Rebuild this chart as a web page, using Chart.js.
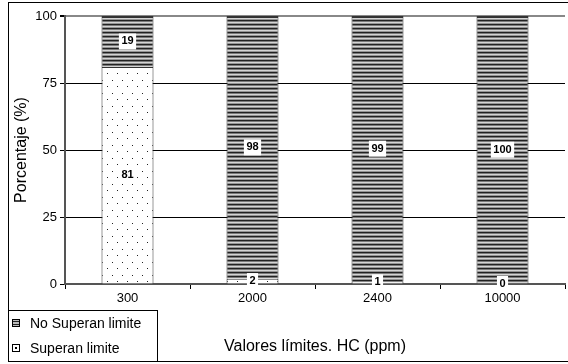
<!DOCTYPE html>
<html>
<head>
<meta charset="utf-8">
<script src="https://cdn.jsdelivr.net/npm/chart.js@4/dist/chart.umd.min.js"></script>
<style>
  html, body { margin: 0; padding: 0; background: #fff; }
  #wrap { width: 568px; height: 364px; position: relative; }
</style>
</head>
<body>
<div id="wrap"><canvas id="grafico"></canvas></div>
<script>
// Datos
var categorias = ['300', '2000', '2400', '10000'];
var superan = [81, 2, 1, 0];
var noSuperan = [19, 98, 99, 100];
var nombresSeries = ['Superan limite', 'No Superan limite'];
var ejeY = { min: 0, max: 100, paso: 25 };
var tituloX = 'Valores límites. HC (ppm)';
var tituloY = 'Porcentaje (%)';

// patrones de relleno
function patronRayas(ctx) {
    var c = document.createElement('canvas');
    c.width = 4; c.height = 4;
    var p = c.getContext('2d');
    p.fillStyle = '#d4d4d4'; p.fillRect(0, 0, 4, 4);
    p.fillStyle = '#222222'; p.fillRect(0, 0, 4, 1);
    p.fillStyle = '#7a7a7a'; p.fillRect(0, 1, 4, 1);
    p.fillStyle = '#959595'; p.fillRect(0, 3, 4, 1);
    return ctx.createPattern(c, 'repeat');
}

function patronPuntos(ctx) {
    var c = document.createElement('canvas');
    c.width = 10; c.height = 13;
    var p = c.getContext('2d');
    p.fillStyle = '#ffffff'; p.fillRect(0, 0, 10, 13);
    p.fillStyle = '#222222';
    p.fillRect(2, 2, 1, 1);
    p.fillRect(7, 8, 1, 1);
    return ctx.createPattern(c, 'repeat');
}

var canvas = document.getElementById('grafico');
var ctx = canvas.getContext('2d');
var rayas = patronRayas(ctx);
var puntos = patronPuntos(ctx);

// etiquetas de valores en cajas blancas
var etiquetasPlugin = {
    id: 'etiquetas',
    afterDatasetsDraw: function (chart) {
        var c = chart.ctx;
        c.save();
        c.font = 'bold 11px "Liberation Sans", Arial, sans-serif';
        c.textAlign = 'center';
        c.textBaseline = 'middle';
        chart.data.datasets.forEach(function (ds, i) {
            chart.getDatasetMeta(i).data.forEach(function (bar, j) {
                var txt = String(ds.data[j]);
                var y = (bar.y + bar.base) / 2;
                var w = c.measureText(txt).width + 5;
                c.fillStyle = '#fff';
                c.fillRect(bar.x - w / 2, y - 8, w, 16);
                c.fillStyle = '#000';
                c.fillText(txt, bar.x, y);
            });
        });
        c.restore();
    }
};

// marco exterior y leyenda abajo a la izquierda
var marcoPlugin = {
    id: 'marco',
    afterDraw: function (chart) {
        var c = chart.ctx;
        c.save();
        c.strokeStyle = '#000';
        c.lineWidth = 1;
        c.strokeRect(8.5, 2.5, 570, 359);
        c.strokeRect(8.5, 310.5, 149, 51);
        var items = [
            { texto: nombresSeries[1], y: 323 },
            { texto: nombresSeries[0], y: 348 }
        ];
        c.font = '14px "Liberation Sans", Arial, sans-serif';
        c.textBaseline = 'middle';
        items.forEach(function (it, k) {
            c.fillStyle = k === 0 ? '#bbb' : '#fff';
            c.fillRect(12, it.y - 4, 8, 8);
            if (k === 0) {
                c.fillStyle = '#222';
                c.fillRect(12, it.y - 2, 8, 1);
                c.fillRect(12, it.y + 1, 8, 1);
            } else {
                c.fillStyle = '#000';
                c.fillRect(15, it.y - 1, 2, 2);
            }
            c.strokeStyle = '#000';
            c.strokeRect(12.5, it.y - 3.5, 7, 7);
            c.fillStyle = '#000';
            c.fillText(it.texto, 30, it.y + 1);
        });
        c.restore();
    }
};

new Chart(ctx, {
    type: 'bar',
    data: {
        labels: categorias,
        datasets: [{
            label: nombresSeries[0],
            data: superan,
            backgroundColor: puntos,
            borderColor: '#333',
            borderWidth: 1,
            categoryPercentage: 0.8,
            barPercentage: 0.52
        }, {
            label: nombresSeries[1],
            data: noSuperan,
            backgroundColor: rayas,
            borderColor: '#333',
            borderWidth: { top: 2, left: 1, right: 1, bottom: 1 },
            categoryPercentage: 0.8,
            barPercentage: 0.52
        }]
    },
    options: {
        responsive: true,
        maintainAspectRatio: false,
        animation: false,
        layout: { padding: { left: 0, top: 16, right: 3, bottom: 0 } },
        scales: {
            x: {
                stacked: true,
                afterFit: function (s) { s.height = 80; },
                grid: { drawOnChartArea: false, color: '#000', tickLength: 5 },
                border: { color: '#555', width: 2 },
                ticks: {
                    color: '#000', padding: 2,
                    font: { family: '"Liberation Sans", Arial, sans-serif', size: 13 }
                },
                title: {
                    display: true, text: tituloX, color: '#000',
                    padding: { top: 0, bottom: 8 },
                    font: { family: '"Liberation Sans", Arial, sans-serif', size: 16 }
                }
            },
            y: {
                stacked: true,
                min: ejeY.min,
                max: ejeY.max,
                afterFit: function (s) { s.width = 65; },
                grid: {
                    color: function (c) { return c.tick && c.tick.value === 100 ? '#888' : '#000'; },
                    lineWidth: function (c) { return c.tick && c.tick.value === 100 ? 2 : 1; },
                    tickColor: '#000',
                    tickLength: 5
                },
                border: { color: '#555', width: 2 },
                ticks: {
                    stepSize: ejeY.paso, color: '#000', padding: 3,
                    font: { family: '"Liberation Sans", Arial, sans-serif', size: 13 }
                },
                title: {
                    display: true, text: tituloY, color: '#000',
                    padding: { top: 12, bottom: 0 },
                    font: { family: '"Liberation Sans", Arial, sans-serif', size: 16 }
                }
            }
        },
        plugins: {
            legend: { display: false },
            tooltip: { enabled: false }
        }
    },
    plugins: [etiquetasPlugin, marcoPlugin]
});
</script>
</body>
</html>
